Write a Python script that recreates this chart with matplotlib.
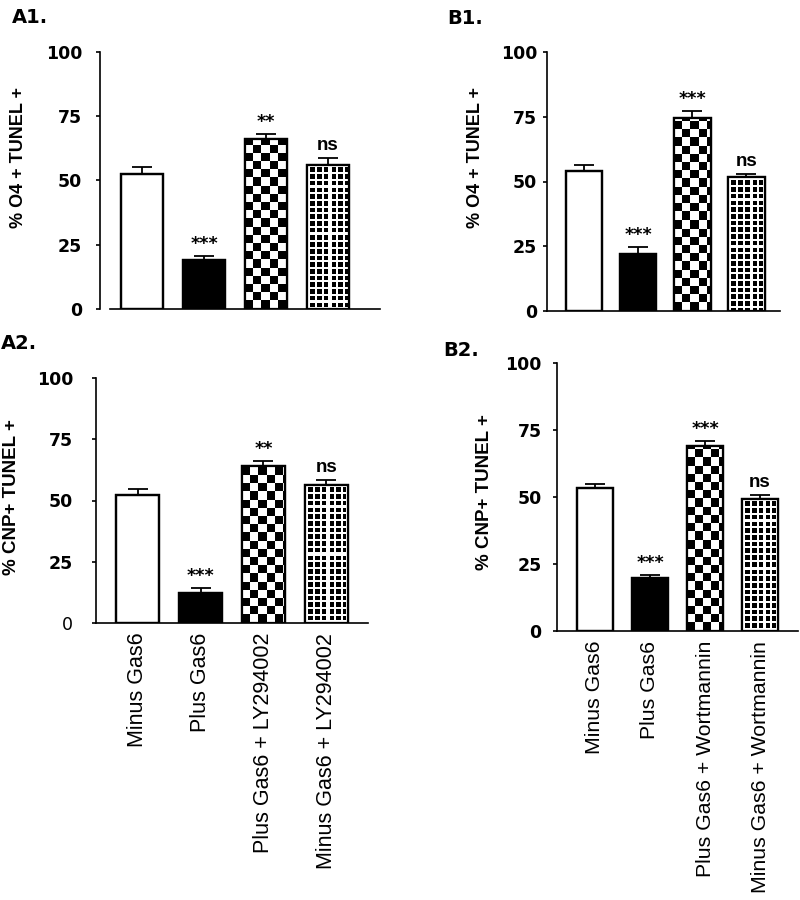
import numpy as np
import matplotlib
matplotlib.use("Agg")
import matplotlib.pyplot as plt

# ---------------- data ----------------
labels_A = ["Minus Gas6", "Plus Gas6", "Plus Gas6 + LY294002", "Minus Gas6 + LY294002"]
labels_B = ["Minus Gas6", "Plus Gas6", "Plus Gas6 + Wortmannin", "Minus Gas6 + Wortmannin"]

a1_mean = [52.5, 19.1, 66.0, 56.1]
a1_err = [2.9, 1.6, 2.0, 2.8]
a1_sig = ["", "***", "**", "ns"]

b1_mean = [53.9, 21.9, 74.6, 51.7]
b1_err = [2.5, 2.8, 2.5, 1.3]
b1_sig = ["", "***", "***", "ns"]

a2_mean = [52.4, 12.2, 63.9, 56.5]
a2_err = [2.3, 1.9, 2.2, 1.7]
a2_sig = ["", "***", "**", "ns"]

b2_mean = [53.5, 19.9, 69.2, 49.3]
b2_err = [1.3, 1.0, 1.8, 1.3]
b2_sig = ["", "***", "***", "ns"]

yticks = [0, 25, 50, 75, 100]
ylabel_top = "% O4 + TUNEL +"
ylabel_bot = "% CNP+ TUNEL +"

W, H = 800, 900
fig = plt.figure(figsize=(8, 9), dpi=100)


def px_axes(left, right, top, bottom):
    return fig.add_axes([left / W, 1 - bottom / H, (right - left) / W, (bottom - top) / H])


def pattern_image(ax, bar, kind):
    x0, y0 = bar.get_x(), bar.get_y()
    x1, y1 = x0 + bar.get_width(), y0 + bar.get_height()
    p0 = ax.transData.transform((x0, y0))
    p1 = ax.transData.transform((x1, y1))
    wpx = max(int(round(abs(p1[0] - p0[0]))), 1)
    hpx = max(int(round(abs(p1[1] - p0[1]))), 1)
    jj, ii = np.meshgrid(np.arange(wpx), np.arange(hpx))
    if kind == "checker":
        c = 8.2
        arr = ((np.floor((jj + 1) / c) + np.floor(ii / c)) % 2).astype(float)
    else:
        per = 6.7
        sq = 4.6
        arr = np.ones((hpx, wpx))
        mx = ((jj - 3) % per) < sq
        ii_top = hpx - 1 - ii
        my = ((ii_top - 3) % per) < sq
        arr[mx & my & (jj >= 3) & (jj < wpx - 2) & (ii_top >= 3)] = 0.0
    im = ax.imshow(arr, origin="lower", extent=[x0, x1, y0, y1], cmap="gray",
                   vmin=0, vmax=1, interpolation="nearest", aspect="auto", zorder=2.5)
    im.set_clip_path(bar)


def panel(box, xlim, width, means, errs, sigs, tickpad, xlabels=None, xfont=15.5,
          left_offset=0, zero_bold=True):
    ax = px_axes(*box)
    x = np.arange(len(means))
    ax.set_xlim(*xlim)
    ax.set_ylim(0, 100)
    ax.errorbar(x, means, yerr=errs, fmt="none", ecolor="black", elinewidth=1.3,
                capsize=7, capthick=1.3, zorder=1)
    faces = ["white", "black", "white", "white"]
    bars = ax.bar(x, means, width=width, color=faces, edgecolor="black",
                  linewidth=1.6, zorder=2)
    pattern_image(ax, bars[2], "checker")
    pattern_image(ax, bars[3], "dots")
    # re-draw edges on top of patterns
    ax.bar(x, means, width=width, color="none", edgecolor="black", linewidth=1.6, zorder=3)
    ax.set_xlim(*xlim)
    ax.set_ylim(0, 100)
    for xi, m, e, s in zip(x, means, errs, sigs):
        if not s:
            continue
        if s == "ns":
            ax.annotate(s, (xi, m + e), xytext=(0, 4), textcoords="offset pixels",
                        ha="center", va="bottom", fontsize=13.5, fontweight="bold",
                        family="Liberation Sans", zorder=4)
        else:
            ax.annotate(s, (xi, m + e), xytext=(0, 3), textcoords="offset pixels",
                        ha="center", va="bottom", fontsize=12.5, fontweight="bold",
                        family="DejaVu Sans", zorder=4)
    for sp in ["top", "right"]:
        ax.spines[sp].set_visible(False)
    for sp in ["left", "bottom"]:
        ax.spines[sp].set_linewidth(1.2)
    if left_offset:
        ax.spines["left"].set_position(("outward", left_offset))
    ax.set_yticks(yticks)
    ax.set_yticklabels([str(t) for t in yticks])
    ax.tick_params(axis="y", length=3, width=1.2, pad=tickpad, direction="out")
    for lab in ax.get_yticklabels():
        lab.set_fontsize(12.5)
        lab.set_fontweight("bold")
        lab.set_family("DejaVu Sans")
    if not zero_bold:
        ax.get_yticklabels()[0].set_fontweight("normal")
    ax.set_xticks(x)
    if xlabels is None:
        ax.set_xticklabels([])
        ax.tick_params(axis="x", length=0)
    else:
        ax.set_xticklabels(xlabels, rotation=90, va="top", ha="center",
                           fontsize=xfont, family="Liberation Sans")
        ax.tick_params(axis="x", length=0, pad=7)
    return ax


# A1
panel((110, 380, 52, 309), (-0.516, 3.839), 0.68, a1_mean, a1_err, a1_sig,
      tickpad=10, left_offset=7.2)
# B1
panel((547, 780, 52, 311), (-0.69, 3.62), 0.67, b1_mean, b1_err, b1_sig, tickpad=4)
# A2
panel((96, 368, 378, 623), (-0.66, 3.66), 0.67, a2_mean, a2_err, a2_sig,
      tickpad=13.5, xlabels=labels_A, xfont=15.5, zero_bold=False)
# B2
panel((557, 798, 363, 631), (-0.69, 3.69), 0.65, b2_mean, b2_err, b2_sig,
      tickpad=8, xlabels=labels_B, xfont=15.3)

# y labels
fig.text(19 / W, 1 - 157 / H, ylabel_top, rotation=90, ha="center", va="center",
         fontsize=13, fontweight="bold", family="Liberation Sans")
fig.text(475 / W, 1 - 157 / H, ylabel_top, rotation=90, ha="center", va="center",
         fontsize=13, fontweight="bold", family="Liberation Sans")
fig.text(12 / W, 1 - 497 / H, ylabel_bot, rotation=90, ha="center", va="center",
         fontsize=13.5, fontweight="bold", family="Liberation Sans")
fig.text(485 / W, 1 - 492 / H, ylabel_bot, rotation=90, ha="center", va="center",
         fontsize=13.5, fontweight="bold", family="Liberation Sans")

# panel letters
for txt, xp, yp in [("A1.", 12, 8), ("B1.", 447, 9), ("A2.", 1, 334), ("B2.", 443, 341)]:
    fig.text(xp / W, 1 - yp / H, txt, ha="left", va="top", fontsize=14,
             fontweight="bold", family="DejaVu Sans")

fig.savefig("out.png", dpi=100)
